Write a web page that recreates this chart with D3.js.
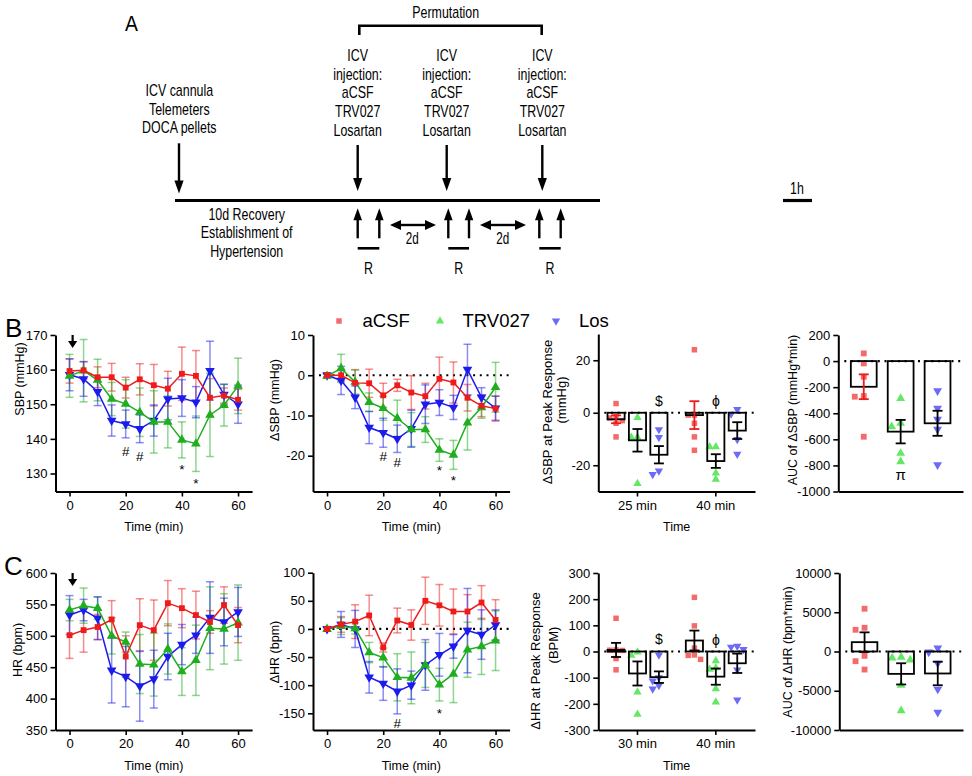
<!DOCTYPE html>
<html><head><meta charset="utf-8">
<script src="https://cdn.jsdelivr.net/npm/d3@7"></script>
<style>
body{margin:0;background:#fff;}
svg text{font-family:"Liberation Sans",Arial,sans-serif;fill:#000;}
</style></head><body>
<svg id="fig" width="972" height="776"></svg>
<script>
// ---------------- DATA ----------------
const times = [0,5,10,15,20,25,30,35,40,45,50,55,60];
const seriesNames = ["aCSF","TRV027","Los"];

// SBP (mmHg)
const sbpACSF = [159.6,159.8,157.8,157.8,154.8,157.2,155.5,154.5,158.8,158.2,151.9,152.5,151.3];
const sbpACSFsem = [3.5,2.5,3,4,3,4.5,6,5,7.7,7.3,5.5,2.2,3];
const sbpTRV = [158.2,159.7,157,151.5,150.1,147.7,144.9,144.9,139.7,138.6,146.9,149.7,155.3];
const sbpTRVsem = [6.2,9,6,4.8,7,7,9,7.5,5.2,8,12,6,8];
const sbpLos = [158.5,157.3,153.6,145.3,144.3,142.9,145.3,151.5,151.8,150.6,159.7,152.8,150];
const sbpLossem = [4.6,5,4,4.5,4,4,4.5,6,5.3,4.5,8.5,3,5.5];

// delta SBP (mmHg)
const dsbpACSF = [0,0,-1.9,-2,-5,-2.5,-4.3,-5.2,-0.9,-1.8,-5.6,-7.6,-8.3];
const dsbpACSFsem = [0.5,1.5,3.3,3.5,3,1.5,4.2,3.2,5.4,5.1,3.3,2.7,3.1];
const dsbpTRV = [-0.2,1.7,-1.7,-6.7,-8.2,-10.7,-13.5,-13.5,-18.6,-19.8,-11.8,-8,-3];
const dsbpTRVsem = [0.5,3.5,3,2.3,3,4.5,4.2,3.2,2.8,3.6,6.8,2.7,6.2];
const dsbpLos = [0,-1.3,-5.5,-13,-14.3,-15.8,-13.3,-7.2,-6.8,-8,1.4,-5.5,-8.2];
const dsbpLossem = [0.5,3.5,2.8,4,3.6,3.4,4.6,4.8,3.2,3,6.3,2.4,3];

// HR (bpm)
const hrACSF = [501,509,514,526,467,517,509,552,544,533,522,549,517];
const hrACSFsem = [37,35,20,30,33,42,48,36,31,38,18,29,28];
const hrTRV = [541,548,544,500,490,455,454,479,443,461,512,511,521];
const hrTRVsem = [17,28,18,29,16,47,50,40,38,56,66,56,60];
const hrLos = [533,541,528,445,435,420,431,467,486,501,529,522,538];
const hrLossem = [31,17,34,52,48,56,46,37,32,29,57,38,39];

// delta HR (bpm)
const dhrACSF = [0,8,13,24,-33,15,7,50,42,31,31,47,16];
const dhrACSFsem = [4,14,30,36,8,22,27,42,37,40,30,30,36];
const dhrTRV = [0,5,1,-42,-51,-86,-87,-64,-99,-80,-37,-31,-21];
const dhrTRVsem = [3,15,10,18,17,42,46,40,29,51,49,50,53];
const dhrLos = [0,8,0,-86,-97,-111,-100,-64,-46,-31,-3,-10,7];
const dhrLossem = [4,23,33,28,30,40,25,45,38,21,75,44,27];

// significance notes [time, level, symbol]
const sbpNotes = [[20,136.6,"#"],[25,134.9,"#"],[40,132.3,"*"],[45,128.2,"*"]];
const dsbpNotes = [[20,-20,"#"],[25,-21.6,"#"],[40,-22.7,"*"],[45,-25.2,"*"]];
const dhrNotes = [[25,-167,"#"],[40,-144,"*"]];

// Peak SBP response
const peakSbpGroups = ["25 min","40 min"];
const peakSbpMean = {aCSF:[-2.5,-0.9], TRV027:[-10.5,-18.4], Los:[-16,-6.8]};
const peakSbpSem  = {aCSF:[1.5,5.3], TRV027:[4.3,2.6], Los:[3.3,3.2]};
const peakSbpPts = {
  aCSF:[[3.5,-1.5,-2,-3,-4,-9.2],[24,-0.9,-0.9,-4,-9.2,-14.3]],
  TRV027:[[-1.8,-9.4,-9.4,-27],[-13,-13,-23,-25.4]],
  Los:[[-6.4,-9.4,-22.2,-23.5],[1.3,-0.5,-10.2,-15.8]]
};
const peakSbpNotes = [[0,"Los",4.3,"$"],[1,"TRV027",4.3,"\u03D5"]];

// AUC SBP
const aucSbpMean = {aCSF:-197, TRV027:-541, Los:-477};
const aucSbpSem  = {aCSF:95, TRV027:90, Los:96};
const aucSbpPts = {aCSF:[59,-18,-120,-268,-273,-580], TRV027:[-286,-477,-503,-707,-771], Los:[-228,-362,-447,-523,-796]};

// Peak HR response
const peakHrGroups = ["30 min","40 min"];
const peakHrMean = {aCSF:[6,42], TRV027:[-84,-96], Los:[-98,-45]};
const peakHrSem  = {aCSF:[27,38], TRV027:[46,31], Los:[22,37]};
const peakHrPts = {
  aCSF:[[127,5,4,6,-27,-70],[207,98,13,-13,-30,-15]],
  TRV027:[[-2,-15,-155,-240],[-36,-68,-62,-143,-193]],
  Los:[[-13,-100,-112,-130,-143],[17,20,8,-70,-185]]
};
const peakHrNotes = [[0,"Los",46,"$"],[1,"TRV027",44,"\u03D5"]];

// AUC HR
const aucHrMean = {aCSF:1190, TRV027:-2850, Los:-2800};
const aucHrSem  = {aCSF:1250, TRV027:1350, Los:1500};
const aucHrPts = {aCSF:[5447,3021,2766,-553,-1234,-2298], TRV027:[-809,-723,-1064,-4300,-7532], Los:[425,-85,-1490,-4809,-7745]};

// ---------------- DRAWING ----------------
const svg = d3.select('#fig');
const COL = {aCSF:'#ee1b1b', TRV027:'#1fae1f', Los:'#1b1bee'};
const PT  = {aCSF:'#f46a6a', TRV027:'#62e862', Los:'#6b6bf7'};
const symType = {aCSF:d3.symbolSquare, TRV027:d3.symbolTriangle, Los:d3.symbolTriangle};
const symRot = {aCSF:0, TRV027:0, Los:180};
const fmt = d => String(d);

function styleAxis(a){
  a.select('.domain').attr('stroke','#000').attr('stroke-width',2);
  a.selectAll('.tick line').attr('stroke','#000').attr('stroke-width',1.6);
  a.selectAll('.tick text').attr('font-size',13).attr('fill','#000')
    .attr('font-family','"Liberation Sans",Arial,sans-serif');
}
function symbolPath(name, size){ return d3.symbol().type(symType[name]).size(size)(); }

function ylabel(x, y, lines, fs){
  return svg.append('text').attr('transform',`translate(${x},${y}) rotate(-90)`)
    .attr('text-anchor','middle').attr('font-size',fs).attr('dy','0.35em').text(lines);
}

function linePanel(o){
  const g = svg.append('g');
  const x = d3.scaleLinear().domain([-5,65]).range([o.x0, o.x0+196.6]);
  const y = d3.scaleLinear().domain(o.ydom).range([o.yb, o.yt]);
  if(o.zero){
    g.append('line').attr('x1',x.range()[0]+6).attr('x2',x.range()[1]).attr('y1',y(0)).attr('y2',y(0))
      .attr('stroke','#000').attr('stroke-width',2.2).attr('stroke-dasharray','2,4.7');
  }
  const series = [
    {name:'aCSF', v:o.data[0], e:o.data[1]},
    {name:'TRV027', v:o.data[2], e:o.data[3]},
    {name:'Los', v:o.data[4], e:o.data[5]}
  ];
  series.forEach(s=>{
    const eg = g.append('g').attr('stroke',COL[s.name]).attr('stroke-opacity',0.5).attr('stroke-width',1.5);
    times.forEach((t,i)=>{
      const cx = x(t), y1 = y(s.v[i]+s.e[i]), y2 = y(s.v[i]-s.e[i]);
      eg.append('line').attr('x1',cx).attr('x2',cx).attr('y1',y1).attr('y2',y2);
      eg.append('line').attr('x1',cx-4).attr('x2',cx+4).attr('y1',y1).attr('y2',y1);
      eg.append('line').attr('x1',cx-4).attr('x2',cx+4).attr('y1',y2).attr('y2',y2);
    });
  });
  ['Los','TRV027','aCSF'].forEach(n=>{
    const s = series.find(d=>d.name===n);
    g.append('path').datum(s.v).attr('fill','none').attr('stroke',COL[n]).attr('stroke-width',1.5)
      .attr('d', d3.line().x((d,i)=>x(times[i])).y(d=>y(d)));
    g.selectAll(null).data(s.v).enter().append('path')
      .attr('d', symbolPath(n, n==='aCSF'?34:40))
      .attr('transform',(d,i)=>`translate(${x(times[i])},${y(d)}) rotate(${symRot[n]})`)
      .attr('fill',COL[n]);
  });
  const ax = g.append('g').attr('transform',`translate(0,${o.yb})`)
    .call(d3.axisBottom(x).tickValues([0,20,40,60]).tickFormat(fmt).tickSize(5).tickSizeOuter(0).tickPadding(4));
  styleAxis(ax);
  const ay = g.append('g').attr('transform',`translate(${o.x0},0)`)
    .call(d3.axisLeft(y).tickValues(o.yticks).tickFormat(fmt).tickSize(5).tickSizeOuter(0).tickPadding(3));
  styleAxis(ay);
  (o.notes||[]).forEach(([t,v,s])=>{
    g.append('text').attr('x',x(t)).attr('y',y(v)).attr('text-anchor','middle')
      .attr('font-size',13.5).attr('dy', s==='*'?'0.62em':'0.36em').text(s);
  });
  if(o.arrow){
    const ax0 = x(1.1), top = o.yt, bot = o.yt+13;
    g.append('line').attr('x1',ax0).attr('x2',ax0).attr('y1',top).attr('y2',bot-6).attr('stroke','#000').attr('stroke-width',2.2);
    g.append('path').attr('d',`M${ax0-4.6},${bot-7}L${ax0+4.6},${bot-7}L${ax0},${bot}Z`).attr('fill','#000');
  }
  svg.append('text').attr('x',(x.range()[0]+x.range()[1])/2).attr('y',o.yb+35.5).attr('dy','0.35em')
    .attr('text-anchor','middle').attr('font-size',12.5).text('Time (min)');
  ylabel(o.lab[0], o.lab[1], o.label, 12.5);
}

function beeswarm(vals, yScale, cx, step){
  const sorted = vals.map((v,i)=>({v,i})).sort((a,b)=>b.v-a.v);
  const placed = [];
  sorted.forEach(p=>{
    const py = yScale(p.v);
    for(const c of [0,-1,1,-2,2,-3,3]){
      const px = cx + c*step;
      if(!placed.some(q=>Math.abs(q.x-px)<step*0.9 && Math.abs(q.y-py)<step*0.9)){
        placed.push({x:px,y:py,v:p.v}); break;
      }
    }
  });
  return placed;
}

function drawBar(g, y, name, cx, bw, mean, sem, pts, errColor, step, psize){
  const base = y(0);
  const pl = beeswarm(pts, y, cx, step);
  g.selectAll(null).data(pl).enter().append('path')
    .attr('d', symbolPath(name, psize))
    .attr('transform', d=>`translate(${d.x},${d.y}) rotate(${symRot[name]})`)
    .attr('fill', PT[name]);
  g.append('rect').attr('x',cx-bw/2).attr('width',bw)
    .attr('y',Math.min(base,y(mean))).attr('height',Math.abs(base-y(mean)))
    .attr('fill','none').attr('stroke','#000').attr('stroke-width',1.8);
  const y1 = y(mean+sem), y2 = y(mean-sem);
  const eg = g.append('g').attr('stroke',errColor).attr('stroke-width',1.8);
  eg.append('line').attr('x1',cx).attr('x2',cx).attr('y1',y1).attr('y2',y2);
  eg.append('line').attr('x1',cx-5).attr('x2',cx+5).attr('y1',y1).attr('y2',y1);
  eg.append('line').attr('x1',cx-5).attr('x2',cx+5).attr('y1',y2).attr('y2',y2);
}

function peakPanel(o){
  const g = svg.append('g');
  const x = d3.scaleBand().domain(o.groups).range([o.x0, o.x1]);
  const inner = d3.scaleBand().domain(seriesNames).range([-30,30]).paddingInner(0.2);
  const y = d3.scaleLinear().domain(o.ydom).range([o.yb, o.yt]);
  g.append('line').attr('x1',o.x0+6).attr('x2',o.x1).attr('y1',y(0)).attr('y2',y(0))
    .attr('stroke','#000').attr('stroke-width',2.2).attr('stroke-dasharray','2,4.7');
  o.groups.forEach((gr,gi)=>{
    seriesNames.forEach(n=>{
      const cx = x(gr)+x.bandwidth()/2 + inner(n)+inner.bandwidth()/2;
      drawBar(g, y, n, cx, inner.bandwidth(), o.mean[n][gi], o.sem[n][gi], o.pts[n][gi],
        (o.redErr && n==='aCSF')? COL.aCSF : '#000', 6.2, 30);
    });
  });
  (o.notes||[]).forEach(([gi,n,v,s])=>{
    const cx = x(o.groups[gi])+x.bandwidth()/2 + inner(n)+inner.bandwidth()/2;
    g.append('text').attr('x',cx).attr('y',y(v)).attr('text-anchor','middle')
      .attr('font-size',14).attr('dy','0.35em').text(s);
  });
  const ax = g.append('g').attr('transform',`translate(0,${o.yb})`)
    .call(d3.axisBottom(x).tickSize(5).tickSizeOuter(0).tickPadding(4));
  styleAxis(ax);
  const ay = g.append('g').attr('transform',`translate(${o.x0},0)`)
    .call(d3.axisLeft(y).tickValues(o.yticks).tickFormat(fmt).tickSize(5).tickSizeOuter(0).tickPadding(3));
  styleAxis(ay);
  svg.append('text').attr('x',(o.x0+o.x1)/2).attr('y',o.yb+35.5).attr('dy','0.35em')
    .attr('text-anchor','middle').attr('font-size',12.5).text('Time');
  ylabel(o.lab1[0], o.lab1[1], o.label1, 13);
  ylabel(o.lab2[0], o.lab2[1], o.label2, 13);
}

function aucPanel(o){
  const g = svg.append('g');
  const x = d3.scaleBand().domain(seriesNames).range([o.x0, o.x1]).paddingInner(0.3).paddingOuter(0.34);
  const y = d3.scaleLinear().domain(o.ydom).range([o.yb, o.yt]);
  g.append('line').attr('x1',o.x0+6).attr('x2',o.x1).attr('y1',y(0)).attr('y2',y(0))
    .attr('stroke','#000').attr('stroke-width',2.2).attr('stroke-dasharray','2,4.7');
  seriesNames.forEach(n=>{
    const cx = x(n)+x.bandwidth()/2;
    drawBar(g, y, n, cx, x.bandwidth(), o.mean[n], o.sem[n], o.pts[n],
      (o.redErr && n==='aCSF')? COL.aCSF : '#000', 9, 34);
  });
  (o.notes||[]).forEach(([n,v,s])=>{
    g.append('text').attr('x',x(n)+x.bandwidth()/2).attr('y',y(v)).attr('text-anchor','middle')
      .attr('font-size',15).attr('font-family','"Liberation Serif",serif').attr('dy','0.35em').text(s);
  });
  const ax = g.append('g').attr('transform',`translate(0,${o.yb})`)
    .call(d3.axisBottom(x).tickSize(0).tickSizeOuter(0).tickFormat(''));
  styleAxis(ax);
  const ay = g.append('g').attr('transform',`translate(${o.x0},0)`)
    .call(d3.axisLeft(y).tickValues(o.yticks).tickFormat(fmt).tickSize(5).tickSizeOuter(0).tickPadding(3));
  styleAxis(ay);
  ylabel(o.lab[0], o.lab[1], o.label, 12.5);
}

// Row B
linePanel({x0:55.5, yt:335, yb:491.5, ydom:[124.8,170], yticks:[130,140,150,160,170],
  data:[sbpACSF,sbpACSFsem,sbpTRV,sbpTRVsem,sbpLos,sbpLossem], notes:sbpNotes, arrow:true,
  label:'SBP (mmHg)', lab:[20,379]});
linePanel({x0:313, yt:335, yb:491.5, ydom:[-28.9,10], yticks:[-20,-10,0,10], zero:true,
  data:[dsbpACSF,dsbpACSFsem,dsbpTRV,dsbpTRVsem,dsbpLos,dsbpLossem], notes:dsbpNotes,
  label:'\u0394SBP (mmHg)', lab:[275,400]});
peakPanel({x0:598.3, x1:755, yt:334, yb:491.5, ydom:[-30,30], yticks:[-20,0,20],
  groups:peakSbpGroups, mean:peakSbpMean, sem:peakSbpSem, pts:peakSbpPts, redErr:true,
  notes:peakSbpNotes,
  label1:'\u0394SBP at Peak Response', lab1:[547,412], label2:'(mmHg)', lab2:[561,400]});
aucPanel({x0:838.3, x1:963, yt:335, yb:491.5, ydom:[-1000,200], yticks:[-1000,-800,-600,-400,-200,0,200],
  mean:aucSbpMean, sem:aucSbpSem, pts:aucSbpPts, redErr:true, notes:[['TRV027',-870,'\u03C0']],
  label:'AUC of \u0394SBP (mmHg*min)', lab:[793,410]});

// Row C
linePanel({x0:55.5, yt:573, yb:730, ydom:[350,600], yticks:[350,400,450,500,550,600],
  data:[hrACSF,hrACSFsem,hrTRV,hrTRVsem,hrLos,hrLossem], arrow:true,
  label:'HR (bpm)', lab:[18,650]});
linePanel({x0:313, yt:572.7, yb:730, ydom:[-179.7,100], yticks:[-150,-100,-50,0,50,100], zero:true,
  data:[dhrACSF,dhrACSFsem,dhrTRV,dhrTRVsem,dhrLos,dhrLossem], notes:dhrNotes,
  label:'\u0394HR (bpm)', lab:[275,652]});
peakPanel({x0:598.3, x1:755, yt:573, yb:730, ydom:[-300,300], yticks:[-300,-200,-100,0,100,200,300],
  groups:peakHrGroups, mean:peakHrMean, sem:peakHrSem, pts:peakHrPts, redErr:false,
  notes:peakHrNotes,
  label1:'\u0394HR at Peak Response', lab1:[535,661], label2:'(BPM)', lab2:[553,645]});
aucPanel({x0:839.3, x1:963, yt:573, yb:730, ydom:[-10000,10000], yticks:[-10000,-5000,0,5000,10000],
  mean:aucHrMean, sem:aucHrSem, pts:aucHrPts, redErr:false,
  label:'AUC of \u0394HR (bpm*min)', lab:[788,652]});

// Legend
const legend = [['aCSF',339,362.5],['TRV027',440,462.5],['Los',556,579]];
legend.forEach(([n,mx,tx])=>{
  svg.append('path').attr('d',symbolPath(n,30)).attr('transform',`translate(${mx},321) rotate(${symRot[n]})`).attr('fill',PT[n]);
  svg.append('text').attr('x',tx).attr('y',321).attr('dy','0.35em').attr('font-size',18.5).text(n);
});

// Panel letters
svg.append('text').attr('x',5).attr('y',337).attr('font-size',26).text('B');
svg.append('text').attr('x',4).attr('y',575).attr('font-size',26).text('C');

// ---------------- PANEL A (schematic) ----------------
const A = svg.append('g');
function ntext(x, y, s, fs){
  A.append('text').attr('transform',`translate(${x},${y}) scale(0.73,1)`).attr('text-anchor','middle')
    .attr('font-size',fs).text(s);
}
A.append('text').attr('transform','translate(125,30.7) scale(0.88,1)').attr('font-size',22).text('A');
ntext(445.7, 17.8, 'Permutation', 17);
A.append('path').attr('d','M359.3,35V25.7H541.7V35').attr('fill','none').attr('stroke','#000').attr('stroke-width',2.6);
const injX = [357.7, 446.7, 542.3];
const injLines = ['ICV','injection:','aCSF','TRV027','Losartan'];
injX.forEach(cx=>{
  injLines.forEach((s,i)=>ntext(cx, 60.7+i*18.85, s, 17));
});
['ICV cannula','Telemeters','DOCA pellets'].forEach((s,i)=>ntext(179.3, 96+i*18.7, s, 17));
['10d Recovery','Establishment of','Hypertension'].forEach((s,i)=>ntext(246.7, 220+i*18.3, s, 17));

function downArrow(x, y1, y2){
  A.append('line').attr('x1',x).attr('x2',x).attr('y1',y1).attr('y2',y2-10).attr('stroke','#000').attr('stroke-width',2.4);
  A.append('path').attr('d',`M${x-4.6},${y2-13}L${x+4.6},${y2-13}L${x},${y2}Z`).attr('fill','#000');
}
function upArrow(x, y1, y2){
  A.append('line').attr('x1',x).attr('x2',x).attr('y1',y1).attr('y2',y2+10).attr('stroke','#000').attr('stroke-width',2.4);
  A.append('path').attr('d',`M${x-4.3},${y2+12}L${x+4.3},${y2+12}L${x},${y2}Z`).attr('fill','#000');
}
function dblArrow(x1, x2, y){
  A.append('line').attr('x1',x1+8).attr('x2',x2-8).attr('y1',y).attr('y2',y).attr('stroke','#000').attr('stroke-width',2.4);
  A.append('path').attr('d',`M${x1},${y}L${x1+11},${y-5}L${x1+11},${y+5}Z`).attr('fill','#000');
  A.append('path').attr('d',`M${x2},${y}L${x2-11},${y-5}L${x2-11},${y+5}Z`).attr('fill','#000');
}
downArrow(179, 143.3, 193.5);
injX.forEach(x=>downArrow(x, 145, 191));
A.append('line').attr('x1',175).attr('x2',600).attr('y1',200.5).attr('y2',200.5).attr('stroke','#000').attr('stroke-width',3.2);
A.append('line').attr('x1',783).attr('x2',812).attr('y1',200.5).attr('y2',200.5).attr('stroke','#000').attr('stroke-width',3.2);
ntext(797, 194, '1h', 17);
const upPairs = [[357.7,379.3],[448.3,469],[539.3,560.7]];
upPairs.forEach(([a,b])=>{
  upArrow(a, 238.3, 208.3); upArrow(b, 238.3, 208.3);
  A.append('line').attr('x1',a).attr('x2',b).attr('y1',248.3).attr('y2',248.3).attr('stroke','#000').attr('stroke-width',2.6);
  ntext((a+b)/2, 274, 'R', 17);
});
dblArrow(390, 436, 225); dblArrow(480, 526, 225);
ntext(412.3, 244.3, '2d', 16);
ntext(502.7, 244.3, '2d', 16);
</script>
</body></html>
